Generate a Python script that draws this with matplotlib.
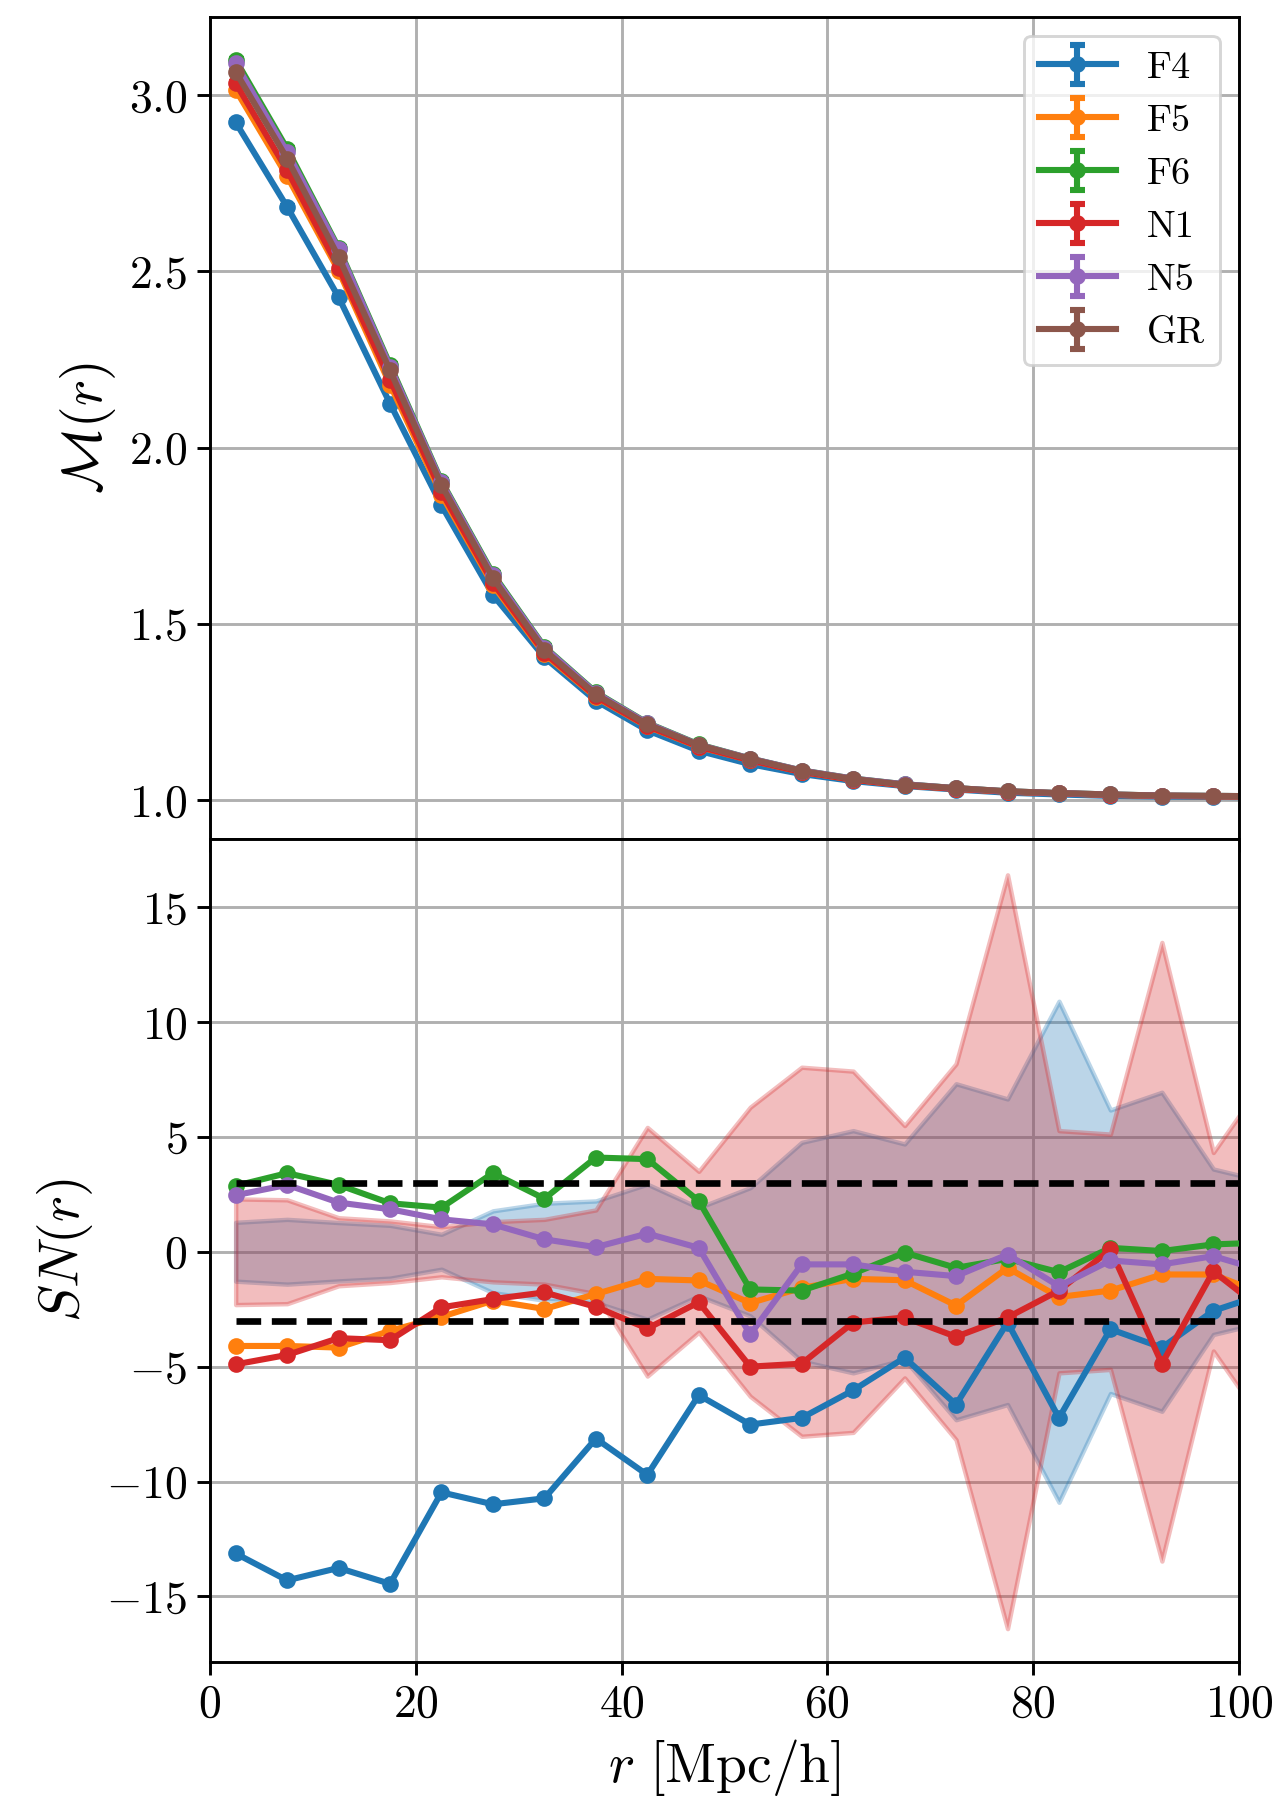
import numpy as np
import matplotlib
matplotlib.use("Agg")
import matplotlib.pyplot as plt

plt.rcParams['font.family'] = 'serif'
plt.rcParams['font.serif'] = ['cmr10']
plt.rcParams['mathtext.fontset'] = 'cm'
plt.rcParams['axes.formatter.use_mathtext'] = True
plt.rcParams['axes.unicode_minus'] = True

# ---------------- data ----------------
r = [2.5, 7.5, 12.5, 17.5, 22.5, 27.5, 32.5, 37.5, 42.5, 47.5, 52.5,
     57.5, 62.5, 67.5, 72.5, 77.5, 82.5, 87.5, 92.5, 97.5, 102.5]

models = ['F4', 'F5', 'F6', 'N1', 'N5', 'GR']

M_F4 = [2.923, 2.683, 2.427, 2.125, 1.836, 1.582, 1.405, 1.282, 1.198, 1.140, 1.102,
        1.074, 1.054, 1.040, 1.030, 1.021, 1.016, 1.012, 1.010, 1.009, 1.008]
M_F5 = [3.015, 2.770, 2.502, 2.179, 1.866, 1.610, 1.414, 1.292, 1.209, 1.151, 1.113,
        1.080, 1.058, 1.042, 1.032, 1.024, 1.019, 1.015, 1.012, 1.011, 1.010]
M_F6 = [3.100, 2.848, 2.567, 2.235, 1.905, 1.642, 1.435, 1.306, 1.219, 1.158, 1.118,
        1.084, 1.061, 1.045, 1.034, 1.025, 1.020, 1.016, 1.013, 1.012, 1.011]
M_N1 = [3.034, 2.787, 2.511, 2.193, 1.875, 1.616, 1.418, 1.294, 1.210, 1.152, 1.113,
        1.080, 1.058, 1.042, 1.032, 1.024, 1.019, 1.015, 1.012, 1.011, 1.010]
M_N5 = [3.090, 2.839, 2.563, 2.230, 1.902, 1.638, 1.433, 1.304, 1.218, 1.157, 1.118,
        1.084, 1.061, 1.045, 1.034, 1.025, 1.020, 1.016, 1.013, 1.012, 1.011]
M_GR = [3.066, 2.820, 2.541, 2.219, 1.894, 1.630, 1.426, 1.300, 1.215, 1.156, 1.117,
        1.083, 1.060, 1.044, 1.034, 1.025, 1.020, 1.016, 1.013, 1.012, 1.011]
M_err = [0.003, 0.003, 0.003, 0.002, 0.002, 0.002, 0.002, 0.002, 0.001, 0.001, 0.001,
         0.001, 0.001, 0.001, 0.001, 0.001, 0.001, 0.001, 0.001, 0.001, 0.001]

SN_F4 = [-13.13, -14.30, -13.76, -14.45, -10.47, -10.99, -10.73, -8.13, -9.71, -6.24, -7.52,
         -7.23, -6.03, -4.61, -6.65, -3.08, -7.23, -3.37, -4.17, -2.57, -1.83]
SN_F5 = [-4.10, -4.10, -4.17, -3.44, -2.83, -2.13, -2.49, -1.84, -1.18, -1.25, -2.23,
         -1.57, -1.18, -1.24, -2.34, -0.70, -1.97, -1.69, -0.99, -0.99, -1.87]
SN_F6 = [2.87, 3.42, 2.91, 2.11, 1.92, 3.42, 2.31, 4.10, 4.03, 2.21, -1.64,
         -1.69, -0.95, -0.04, -0.70, -0.31, -0.89, 0.17, 0.03, 0.32, 0.40]
SN_N1 = [-4.90, -4.49, -3.76, -3.85, -2.42, -2.06, -1.77, -2.40, -3.34, -2.20, -5.00,
         -4.87, -3.08, -2.86, -3.70, -2.86, -1.69, 0.10, -4.87, -0.85, -2.60]
SN_N5 = [2.46, 2.91, 2.14, 1.85, 1.41, 1.19, 0.54, 0.20, 0.79, 0.17, -3.60,
         -0.55, -0.55, -0.87, -1.06, -0.12, -1.50, -0.38, -0.55, -0.19, -0.85]

sig_F4 = [1.28, 1.41, 1.27, 1.15, 0.76, 1.78, 2.11, 2.21, 2.94, 1.92, 2.79,
          4.76, 5.27, 4.69, 7.31, 6.65, 10.90, 6.17, 6.94, 3.60, 3.06]
sig_N1 = [2.30, 2.26, 1.48, 1.34, 1.09, 1.31, 1.41, 1.82, 5.41, 3.50, 6.29,
          8.03, 7.86, 5.49, 8.18, 16.40, 5.27, 5.12, 13.46, 4.32, 7.52]

threshold = 3.0

M_all = [M_F4, M_F5, M_F6, M_N1, M_N5, M_GR]
SN_all = [SN_F4, SN_F5, SN_F6, SN_N1, SN_N5]
colors = ['C0', 'C1', 'C2', 'C3', 'C4', 'C5']

# ---------------- figure ----------------
DPI = 200
fig = plt.figure(figsize=(1277 / DPI, 1800 / DPI), dpi=DPI)
gs = fig.add_gridspec(2, 1, left=0.1644, right=0.9703, top=0.9908, bottom=0.0767, hspace=0)
ax1 = fig.add_subplot(gs[0])
ax2 = fig.add_subplot(gs[1], sharex=ax1)

LW = 2.2
MS = 5
TICKFS = 16.5
LABFS = 20

rr = np.array(r)
for name, vals, c in zip(models, M_all, colors):
    ax1.errorbar(rr, vals, yerr=M_err, fmt='o-', color=c, lw=LW, ms=MS,
                 capsize=2.7, capthick=LW, elinewidth=LW, label=name)

ax1.set_ylim(0.889, 3.223)
ax1.set_yticks([1.0, 1.5, 2.0, 2.5, 3.0])
ax1.set_ylabel(r'$\mathcal{M}(r)$', fontsize=LABFS)
leg = ax1.legend(loc='upper right', fontsize=13.8, handlelength=2.0)
leg.get_frame().set_linewidth(1.05)

# bottom panel
ax2.fill_between(rr, -np.array(sig_F4), np.array(sig_F4), color='C0', alpha=0.3, lw=1.6)
ax2.fill_between(rr, -np.array(sig_N1), np.array(sig_N1), color='C3', alpha=0.3, lw=1.6)
for name, vals, c in zip(models[:5], SN_all, colors[:5]):
    ax2.plot(rr, vals, 'o-', color=c, lw=LW, ms=MS, zorder=3)
ax2.hlines([threshold, -threshold], rr[0], rr[-1], colors='k', linestyles='--', lw=2.4, zorder=4)

ax2.set_ylim(-17.85, 17.95)
ax2.set_yticks([-15, -10, -5, 0, 5, 10, 15])
ax2.set_xlim(0, 100)
ax2.set_xticks([0, 20, 40, 60, 80, 100])
ax2.set_ylabel(r'$SN(r)$', fontsize=LABFS)
ax2.set_xlabel(r'$r\ [\mathrm{Mpc/h}]$', fontsize=LABFS)

for ax in (ax1, ax2):
    ax.grid(True, color='#b0b0b0', lw=1.05)
    ax.set_axisbelow(True)
    ax.tick_params(labelsize=TICKFS, length=4.6, width=1.05)
    for s in ax.spines.values():
        s.set_linewidth(1.05)
plt.setp(ax1.get_xticklabels(), visible=False)

fig.savefig('out.png', dpi=DPI)
